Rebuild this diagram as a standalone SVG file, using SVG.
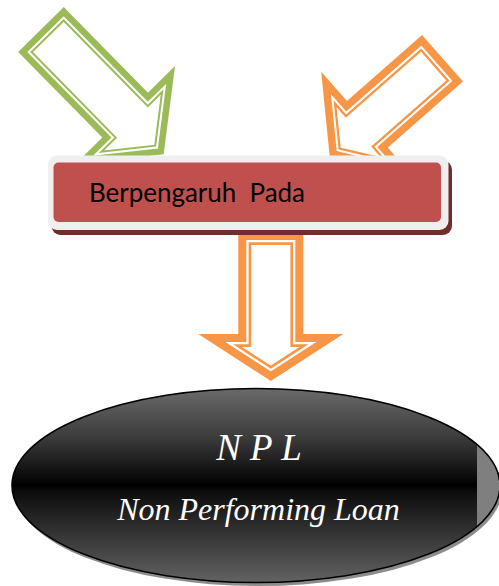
<svg xmlns="http://www.w3.org/2000/svg" width="499" height="586" viewBox="0 0 499 586">
  <defs>
    <linearGradient id="ellGrad" x1="0" y1="0" x2="0" y2="1">
      <stop offset="0" stop-color="#6a6a6a"/>
      <stop offset="0.25" stop-color="#3c3c3c"/>
      <stop offset="0.5" stop-color="#000000"/>
      <stop offset="0.53" stop-color="#0c0c0c"/>
      <stop offset="1" stop-color="#626262"/>
    </linearGradient>
    <clipPath id="ellClip">
      <ellipse cx="256" cy="485.5" rx="244" ry="97"/>
    </clipPath>
  </defs>
  <style>
    .outer { fill: #ffffff; stroke-linejoin: miter; stroke-miterlimit: 10; }
    .inner { fill: none; stroke-linejoin: miter; stroke-miterlimit: 10; }
    .green { stroke: #9BBB59; }
    .orange { stroke: #F79646; }
    .boxtext { font-family: Lato, "Open Sans", "Liberation Sans", sans-serif; font-size: 26.5px; fill: #000000; white-space: pre; }
    .ell { font-family: "Liberation Serif", "Times New Roman", serif; font-style: italic; fill: #ffffff; text-anchor: middle; }
  </style>

  <g id="connectors">
    <g id="arrow-green" transform="translate(41,29.5) rotate(45.5)">
      <path class="outer green" stroke-width="6.5" d="M3.25,-28.75 L123.25,-28.75 L123.25,-60.6 L170.9,0 L123.25,60.6 L123.25,28.75 L3.25,28.75 Z"/>
      <path class="inner green" stroke-width="2" d="M9.5,-22.5 L129.5,-22.5 L129.5,-42.5 L162.9,0 L129.5,42.5 L129.5,22.5 L9.5,22.5 Z"/>
    </g>
    <g id="arrow-orange-left" transform="translate(442.5,58.3) rotate(138.7)">
      <path class="outer orange" stroke-width="7.5" d="M3.75,-27.25 L103.75,-27.25 L103.75,-58.3 L145.4,0 L103.75,58.3 L103.75,27.25 L3.75,27.25 Z"/>
      <path class="inner orange" stroke-width="2.3" d="M10.65,-20.35 L110.65,-20.35 L110.65,-36.8 L136.9,0 L110.65,36.8 L110.65,20.35 L10.65,20.35 Z"/>
    </g>
    <g id="arrow-orange-down" transform="translate(270.8,232) rotate(90)">
      <path class="outer orange" stroke-width="8" d="M4,-28.5 L106,-28.5 L106,-59 L144.2,0 L106,59 L106,28.5 L4,28.5 Z"/>
      <path class="inner orange" stroke-width="2.6" d="M11.6,-20.9 L113.6,-20.9 L113.6,-33.3 L135.2,0 L113.6,33.3 L113.6,20.9 L11.6,20.9 Z"/>
    </g>
  </g>

  <g id="node-berpengaruh">
    <rect x="51.5" y="160.5" width="400.5" height="74.5" rx="9" fill="#722d2b"/>
    <rect x="48" y="155.5" width="400.5" height="74.5" rx="9" fill="#efefef"/>
    <rect x="53.5" y="162.5" width="387.5" height="59.5" rx="5" fill="#C0504D"/>
    <text class="boxtext" xml:space="preserve" x="89" y="201.7" textLength="216" lengthAdjust="spacingAndGlyphs">Berpengaruh  Pada</text>
  </g>

  <g id="node-npl">
    <ellipse cx="258" cy="489" rx="244" ry="97" fill="#8c8c8c"/>
    <ellipse cx="256" cy="485.5" rx="244" ry="97" fill="url(#ellGrad)"/>
    <rect x="477" y="380" width="30" height="210" fill="#7f7f7f" clip-path="url(#ellClip)"/>
    <ellipse cx="256" cy="485.5" rx="244" ry="97" fill="none" stroke="#000000" stroke-width="1.6"/>
    <text class="ell" x="259" y="460" font-size="37">N P L</text>
    <text class="ell" x="258.5" y="520" font-size="32">Non Performing Loan</text>
  </g>
</svg>
